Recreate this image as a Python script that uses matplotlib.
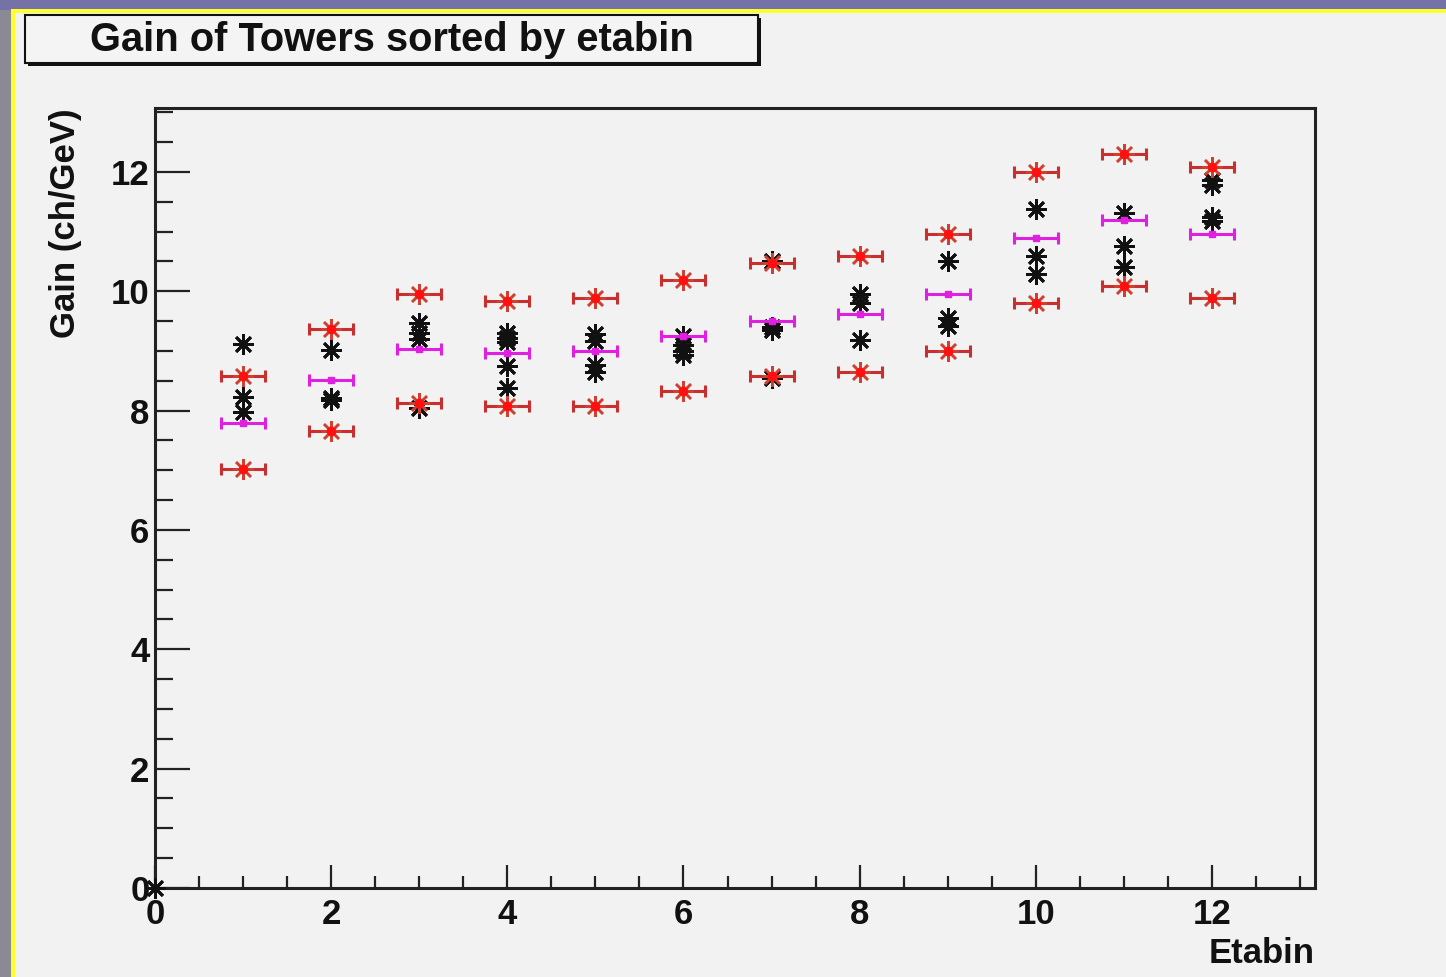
import matplotlib
matplotlib.use("Agg")
import matplotlib.pyplot as plt
from matplotlib.patches import Rectangle
from matplotlib.ticker import MultipleLocator

# ---------------- data ----------------
etabins = [1, 2, 3, 4, 5, 6, 7, 8, 9, 10, 11, 12]
mean_gain = [7.80, 8.51, 9.03, 8.96, 9.00, 9.25, 9.50, 9.62, 9.95, 10.89, 11.19, 10.96]
upper_gain = [8.58, 9.36, 9.96, 9.84, 9.88, 10.18, 10.47, 10.59, 10.96, 12.00, 12.30, 12.08]
lower_gain = [7.02, 7.65, 8.13, 8.07, 8.07, 8.32, 8.58, 8.65, 8.99, 9.81, 10.08, 9.88]
tower_bins = [0,
              1, 1, 1,
              2, 2, 2,
              3, 3, 3, 3,
              4, 4, 4, 4, 4,
              5, 5, 5, 5,
              6, 6, 6, 6,
              7, 7, 7, 7,
              8, 8, 8,
              9, 9, 9,
              10, 10, 10,
              11, 11, 11,
              12, 12, 12, 12]
tower_gain = [0.0,
              9.11, 8.23, 7.98,
              9.02, 8.21, 8.17,
              9.47, 9.30, 9.20, 8.04,
              9.30, 9.22, 9.15, 8.75, 8.38,
              9.28, 9.17, 8.76, 8.65,
              9.25, 9.10, 8.99, 8.93,
              10.50, 9.40, 9.35, 8.55,
              9.96, 9.80, 9.18,
              10.51, 9.55, 9.42,
              11.37, 10.59, 10.29,
              11.31, 10.75, 10.41,
              11.87, 11.78, 11.25, 11.18]
bin_halfwidth = 0.25
title = "Gain of Towers sorted by etabin"
xlabel = "Etabin"
ylabel = "Gain (ch/GeV)"

# ---------------- figure ----------------
W, H = 1446, 977
fig = plt.figure(figsize=(W / 100, H / 100), dpi=100, facecolor="#8a8a94")
plt.rcParams["font.family"] = ["Liberation Sans", "DejaVu Sans"]

def px(x0, y0, w, h):
    # pixel box (top-left origin) -> figure fraction
    return (x0 / W, 1 - (y0 + h) / H, w / W, h / H)

# top purple strip
fx, fy, fw, fh = px(0, 0, W, 10)
fig.patches.append(Rectangle((fx, fy), fw, fh, transform=fig.transFigure,
                             facecolor="#7472a6", edgecolor="none", zorder=0))
# canvas
fx, fy, fw, fh = px(11, 9, W - 11, H - 9)
fig.patches.append(Rectangle((fx, fy), fw, fh, transform=fig.transFigure,
                             facecolor="#f2f2f2", edgecolor="none", zorder=1))
# yellow border (left and top)
fx, fy, fw, fh = px(11, 9, 4, H - 9)
fig.patches.append(Rectangle((fx, fy), fw, fh, transform=fig.transFigure,
                             facecolor="#ffff30", edgecolor="none", zorder=2))
fx, fy, fw, fh = px(11, 9, W - 11, 4)
fig.patches.append(Rectangle((fx, fy), fw, fh, transform=fig.transFigure,
                             facecolor="#ffff30", edgecolor="none", zorder=2))

# title box with shadow
fx, fy, fw, fh = px(28, 18, 733, 48)
fig.patches.append(Rectangle((fx, fy), fw, fh, transform=fig.transFigure,
                             facecolor="#111111", edgecolor="none", zorder=3))
fx, fy, fw, fh = px(25, 15, 733, 48)
fig.patches.append(Rectangle((fx, fy), fw, fh, transform=fig.transFigure,
                             facecolor="#f4f4f4", edgecolor="#111111", linewidth=1.5, zorder=4))
fig.text((25 + 733 / 2) / W, 1 - 40 / H, title, ha="center", va="center",
         fontsize=28.7, fontweight="bold", color="#111111", zorder=5)

# axes
left, right, bottom, top = 155, 1315, 888, 108
ax = fig.add_axes([left / W, 1 - bottom / H, (right - left) / W, (bottom - top) / H])
ax.set_facecolor("#f2f2f2")
ax.set_zorder(3)
ax.set_xlim(0, 13.17)
ax.set_ylim(0, 13.07)

# black tower points
ax.plot(tower_bins, tower_gain, linestyle="none", marker=(8, 2, 0), markersize=15,
        markeredgewidth=2.0, color="#111111", clip_on=False, zorder=3)
ax.plot(tower_bins, tower_gain, linestyle="none", marker="o", markersize=4,
        color="#111111", clip_on=False, zorder=3)

# magenta mean
ax.errorbar(etabins, mean_gain, xerr=bin_halfwidth, fmt="none", ecolor="#e020e0",
            elinewidth=2.2, capsize=4, capthick=2.2, zorder=4)
ax.plot(etabins, mean_gain, linestyle="none", marker="s", markersize=4,
        color="#e020e0", zorder=4)

# red upper / lower
for vals in (upper_gain, lower_gain):
    ax.errorbar(etabins, vals, xerr=bin_halfwidth, fmt="none", ecolor="#c83030",
                elinewidth=2.2, capsize=4, capthick=2.2, zorder=5)
    ax.plot(etabins, vals, linestyle="none", marker=(8, 2, 0), markersize=15,
            markeredgewidth=1.8, color="#d04030", zorder=5)
    ax.plot(etabins, vals, linestyle="none", marker="o", markersize=6,
            color="#ff1010", zorder=6)

# ticks / spines
ax.xaxis.set_major_locator(MultipleLocator(2))
ax.xaxis.set_minor_locator(MultipleLocator(0.5))
ax.yaxis.set_major_locator(MultipleLocator(2))
ax.yaxis.set_minor_locator(MultipleLocator(0.5))
ax.tick_params(axis="x", which="major", direction="in", length=16.5, width=1.6,
               labelsize=25, pad=7, top=False, color="#222222")
ax.tick_params(axis="x", which="minor", direction="in", length=8.5, width=1.6,
               top=False, color="#222222")
ax.tick_params(axis="y", which="major", direction="in", length=25, width=1.6,
               labelsize=25, pad=4, right=False, color="#222222")
ax.tick_params(axis="y", which="minor", direction="in", length=13, width=1.6,
               right=False, color="#222222")
for lab in ax.get_xticklabels() + ax.get_yticklabels():
    lab.set_fontweight("bold")
    lab.set_color("#111111")
for s in ax.spines.values():
    s.set_linewidth(2.2)
    s.set_color("#222222")

fig.text(right / W, 1 - 963 / H, xlabel, ha="right", va="baseline",
         fontsize=25, fontweight="bold", color="#111111")
fig.text(65 / W, 1 - top / H, ylabel, ha="center", va="top", rotation=90,
         fontsize=25, fontweight="bold", color="#111111")

fig.savefig("out.png", dpi=100, facecolor=fig.get_facecolor())
